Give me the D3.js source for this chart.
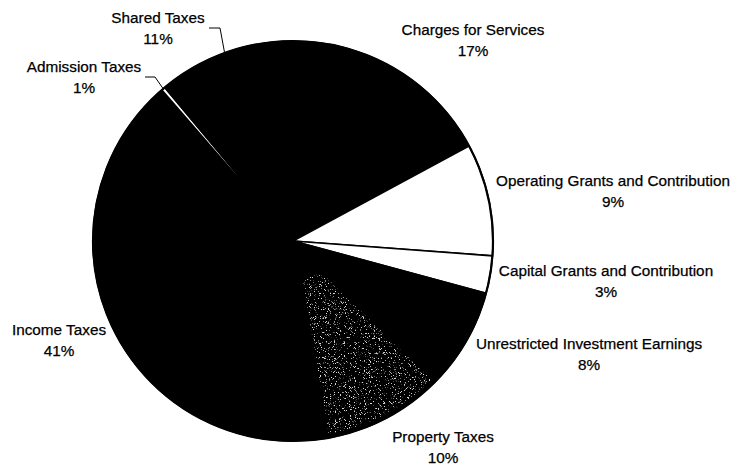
<!DOCTYPE html>
<html lang="en">
<head>
<meta charset="UTF-8">
<title>Revenue pie</title>
<script src="https://d3js.org/d3.v7.min.js"></script>
<style>
  body { margin: 0; background: #fff; }
  text { font-family: "Liberation Sans", Arial, sans-serif; font-size: 15.3px; fill: #000; stroke: #000; stroke-width: 0.25px; }
</style>
</head>
<body>
<svg width="736" height="468"></svg>
<script>
// slices, clockwise from 12 o'clock
const names = ['Charges for Services', 'Operating Grants and Contribution', 'Capital Grants and Contribution',
  'Unrestricted Investment Earnings', 'Property Taxes', 'Income Taxes', 'Admission Taxes', 'Shared Taxes']
const values = [17, 9, 3, 8, 10, 41, 0.3, 11]
const pctLabels = ['17%', '9%', '3%', '8%', '10%', '41%', '1%', '11%']
const fills = ['black', 'white', 'white', 'black', 'speckle', 'black', 'white', 'black']

// label layout: text centre x, first baseline y, optional leader elbow
const labelAt = [
  {x: 473, y: 35},
  {x: 613, y: 186},
  {x: 606, y: 276},
  {x: 589, y: 349},
  {x: 443, y: 442},
  {x: 59, y: 335},
  {x: 84, y: 72, elbow: [155, 77], end: 145},
  {x: 158, y: 23, elbow: [220, 28], end: 209}
]

const svg = d3.select('svg')
const cx = 293, cy = 241, r = 200

const defs = svg.append('defs')
const f = defs.append('filter').attr('id', 'speck')
  .attr('x', 0).attr('y', 0).attr('width', 1).attr('height', 1)
f.append('feTurbulence').attr('type', 'fractalNoise').attr('baseFrequency', 1.2)
  .attr('numOctaves', 2).attr('seed', 4).attr('result', 'n')
f.append('feColorMatrix').attr('in', 'n').attr('type', 'matrix')
  .attr('values', '0 0 0 0 0.7  0 0 0 0 0.7  0 0 0 0 0.7  9 0 0 0 -5.5').attr('result', 'dots')
f.append('feComposite').attr('in', 'dots').attr('in2', 'SourceGraphic').attr('operator', 'in')

const pie = d3.pie().sort(null).value(d => d)
const arcs = pie(values)
const arc = d3.arc().innerRadius(0).outerRadius(r)

const g = svg.append('g').attr('transform', `translate(${cx},${cy})`)

g.selectAll('path.slice')
  .data(arcs)
  .enter()
  .append('path')
  .attr('class', 'slice')
  .attr('d', arc)
  .attr('fill', (d, i) => fills[i] === 'speckle' ? 'black' : fills[i])
  .attr('stroke', 'black')
  .attr('stroke-width', 1.6)
  .attr('stroke-linejoin', 'round')

// speckled overlay for property taxes
g.selectAll('path.speck')
  .data(arcs.filter((d, i) => fills[i] === 'speckle'))
  .enter()
  .append('path')
  .attr('class', 'speck')
  .attr('d', d3.arc().innerRadius(40).outerRadius(r - 4).padAngle(0.03))
  .attr('fill', 'white')
  .attr('filter', 'url(#speck)')

// outline
g.append('circle').attr('r', r).attr('fill', 'none').attr('stroke', 'black').attr('stroke-width', 2.2)

// leader lines
const edge = d3.arc().innerRadius(r + 1).outerRadius(r + 1)
arcs.forEach((d, i) => {
  const L = labelAt[i]
  if (!L.elbow) return
  const p = edge.centroid(d)
  svg.append('path')
    .attr('d', `M${p[0] + cx},${p[1] + cy}L${L.elbow[0]},${L.elbow[1]}L${L.end},${L.elbow[1]}`)
    .attr('fill', 'none').attr('stroke', 'black').attr('stroke-width', 1)
})

// labels
const labels = svg.append('g').selectAll('text')
  .data(arcs)
  .enter()
  .append('text')
  .attr('text-anchor', 'middle')

labels.append('tspan').attr('x', (d, i) => labelAt[i].x).attr('y', (d, i) => labelAt[i].y)
  .text((d, i) => names[i])
labels.append('tspan').attr('x', (d, i) => labelAt[i].x).attr('y', (d, i) => labelAt[i].y + 21)
  .text((d, i) => pctLabels[i])
</script>
</body>
</html>
